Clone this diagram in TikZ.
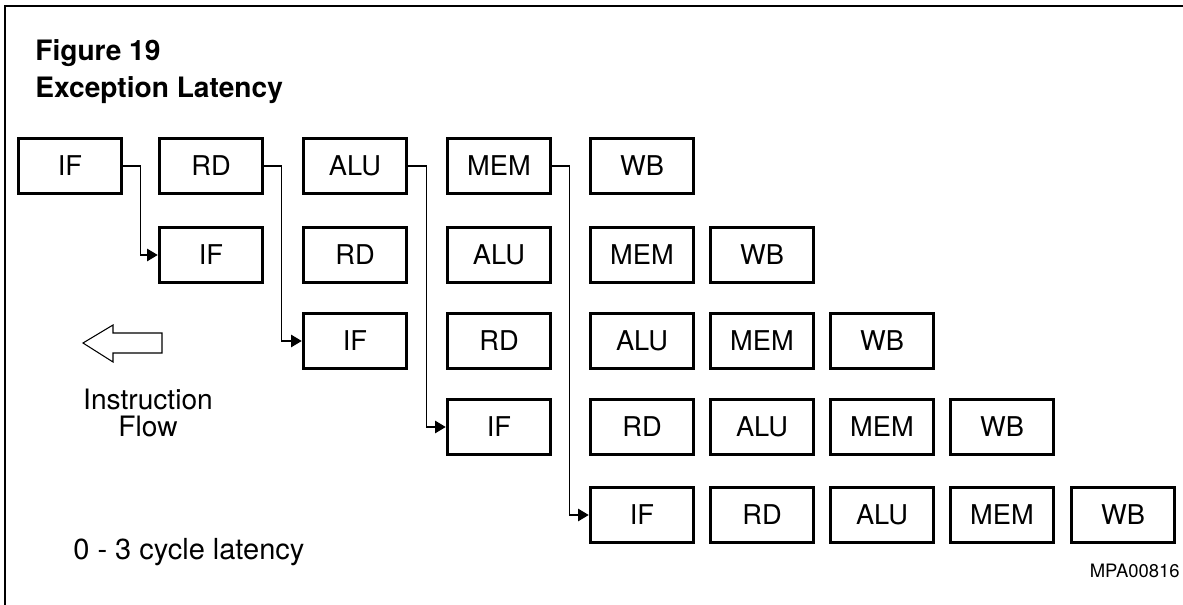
\documentclass[tikz,border=0pt]{standalone}
\usepackage{fontspec}
\setmainfont{TeX Gyre Heros}
\usetikzlibrary{arrows.meta}

\begin{document}
\begin{tikzpicture}[x=0.02cm,y=-0.02cm,
  stage/.style={draw,line width=2pt,minimum width=2.06cm,minimum height=1.1cm,inner sep=0pt,font=\fontsize{15.5}{18}\selectfont},
  flow/.style={line width=0.7pt,-{Triangle[length=6pt,width=7pt]}}]
\useasboundingbox (0,0) rectangle (1183,605);
% frame
\draw[line width=1pt] (5,605) -- (5,6) -- (1183,6);
\node[font=\bfseries\fontsize{16}{18}\selectfont,anchor=base west,inner sep=0pt] (fig) at (35,60) {Figure 19};
\node[font=\bfseries\fontsize{16}{18}\selectfont,anchor=base west,inner sep=0pt] (title) at (35,97) {Exception Latency};
% row 1
\node[stage] (if1) at (70,166) {IF};
\node[stage] (rd1) at (211,166) {RD};
\node[stage] (alu1) at (355,166) {ALU};
\node[stage] (mem1) at (499,166) {MEM};
\node[stage] (wb1) at (642,166) {WB};
% row 2
\node[stage] (if2) at (211,255) {IF};
\node[stage] (rd2) at (355,255) {RD};
\node[stage] (alu2) at (499,255) {ALU};
\node[stage] (mem2) at (642,255) {MEM};
\node[stage] (wb2) at (762,255) {WB};
% row 3
\node[stage] (if3) at (355,341) {IF};
\node[stage] (rd3) at (499,341) {RD};
\node[stage] (alu3) at (642,341) {ALU};
\node[stage] (mem3) at (762,341) {MEM};
\node[stage] (wb3) at (882,341) {WB};
% row 4
\node[stage] (if4) at (499,427) {IF};
\node[stage] (rd4) at (642,427) {RD};
\node[stage] (alu4) at (762,427) {ALU};
\node[stage] (mem4) at (882,427) {MEM};
\node[stage] (wb4) at (1002,427) {WB};
% row 5
\node[stage] (if5) at (642,515) {IF};
\node[stage] (rd5) at (762,515) {RD};
\node[stage] (alu5) at (882,515) {ALU};
\node[stage] (mem5) at (1002,515) {MEM};
\node[stage] (wb5) at (1123,515) {WB};
% exception paths
\draw[flow] (if1.east) -- ++(17,0) |- (if2.west);
\draw[flow] (rd1.east) -- ++(17,0) |- (if3.west);
\draw[flow] (alu1.east) -- ++(18,0) |- (if4.west);
\draw[flow] (mem1.east) -- ++(17,0) |- (if5.west);
% instruction flow
\draw[line width=0.6pt] (83,343) -- (113,325) -- (113,333) -- (162,333) -- (162,353) -- (113,353) -- (113,362) -- cycle;
\node[font=\fontsize{16}{15.5}\selectfont,align=center,inner sep=0pt] (instr) at (148,413) {Instruction\\Flow};
\node[font=\fontsize{16.5}{18}\selectfont,anchor=base west,inner sep=0pt] (lat) at (73,559) {0 - 3 cycle latency};
\node[font=\fontsize{10.5}{12}\selectfont,anchor=base east,inner sep=0pt] (code) at (1180,577) {MPA00816};
\end{tikzpicture}
\end{document}
